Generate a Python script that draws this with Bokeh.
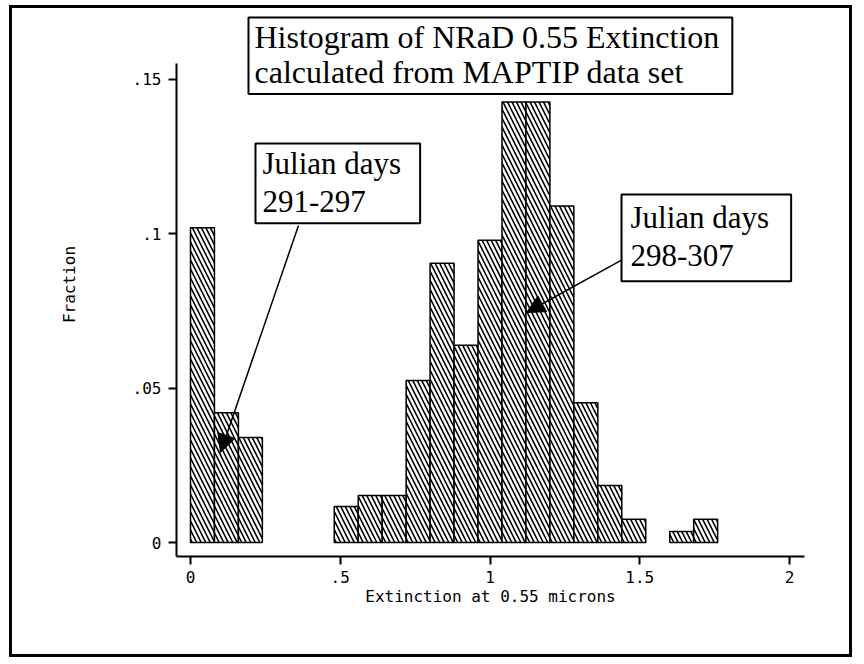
from bokeh.plotting import figure
from bokeh.models import FixedTicker, Label, Arrow, NormalHead, Range1d, ColumnDataSource
from bokeh.embed import file_html
from bokeh.resources import INLINE

# ---- data ----
bin_start = 0.0
bin_width = 0.08
fractions = [0.102, 0.042, 0.034, 0.0, 0.0, 0.0, 0.0117, 0.0152, 0.0152, 0.0525,
             0.0905, 0.0639, 0.0979, 0.1427, 0.1427, 0.109, 0.0453, 0.0185, 0.0075,
             0.0, 0.0036, 0.0075]
x_ticks = [0, 0.5, 1, 1.5, 2]
x_tick_labels = ["0", ".5", "1", "1.5", "2"]
y_ticks = [0, 0.05, 0.1, 0.15]
y_tick_labels = ["0", ".05", ".1", ".15"]
title_text = "Histogram of NRaD 0.55 Extinction\ncalculated from MAPTIP data set"
note_left = "Julian days\n291-297"
note_right = "Julian days\n298-307"
x_label = "Extinction at 0.55 microns"
y_label = "Fraction"

lefts, rights, tops = [], [], []
for i, f in enumerate(fractions):
    if f > 0:
        lefts.append(bin_start + i * bin_width)
        rights.append(bin_start + (i + 1) * bin_width)
        tops.append(f)
src = ColumnDataSource(dict(left=lefts, right=rights, top=tops, bottom=[0] * len(tops)))

y_lo, y_axis_top, y_hi = -0.004535, 0.1552, 0.17169
p = figure(width=843, height=652, x_range=Range1d(-0.0467, 2.05), y_range=Range1d(y_lo, y_hi),
           output_backend="svg", toolbar_location=None,
           min_border_left=164, min_border_right=51, min_border_top=4, min_border_bottom=104)
p.outline_line_color = None
p.xgrid.visible = False
p.ygrid.visible = False
p.background_fill_color = "white"
p.border_fill_color = "white"
p.styles = {"border": "3px solid black", "margin-left": "9px", "margin-top": "5px"}

p.quad(left="left", right="right", top="top", bottom="bottom", source=src,
       fill_color="white", line_color="black", line_width=1.5,
       hatch_pattern="left_diagonal_line", hatch_color="black", hatch_weight=1.6, hatch_scale=9)

mono = "DejaVu Sans Mono"
for ax, ticks, labels in ((p.xaxis[0], x_ticks, x_tick_labels), (p.yaxis[0], y_ticks, y_tick_labels)):
    ax.ticker = FixedTicker(ticks=ticks)
    ax.major_label_overrides = {t: l for t, l in zip(ticks, labels)}
    ax.minor_tick_line_color = None
    ax.major_tick_out = 8
    ax.major_tick_in = 0
    ax.axis_line_width = 2
    ax.major_tick_line_width = 2
    ax.major_label_text_font = mono
    ax.major_label_text_font_size = "16px"
    ax.major_label_text_color = "black"
    ax.axis_label_text_font = mono
    ax.axis_label_text_font_size = "16px"
    ax.axis_label_text_font_style = "normal"
    ax.axis_label_text_color = "black"

p.xaxis.axis_label = x_label
p.xaxis.major_label_standoff = 6
p.xaxis.axis_label_standoff = 1
p.yaxis.axis_label = y_label
p.yaxis.bounds = (y_lo, y_axis_top)
p.yaxis.major_label_orientation = "horizontal"
p.yaxis.major_label_standoff = 7
p.yaxis.axis_label_standoff = 51

serif = "Liberation Serif"
box_style = dict(text_font=serif, text_align="left", text_baseline="top", text_color="black",
                 border_line_color="black", border_line_width=2, background_fill_color="white")
p.add_layout(Label(x=0.19366, y=0.17007, text=title_text, text_font_size="32px", text_line_height=0.988,
                   padding=dict(left=6, right=13, top=1, bottom=4), **box_style))
p.add_layout(Label(x=0.21703, y=0.12925, text=note_left, text_font_size="31px", text_line_height=1.107,
                   padding=dict(left=7, right=19, top=2, bottom=4), **box_style))
p.add_layout(Label(x=1.43907, y=0.11273, text=note_right, text_font_size="31px", text_line_height=1.107,
                   padding=dict(left=9, right=22, top=5, bottom=8), **box_style))

p.add_layout(Arrow(end=NormalHead(size=18, fill_color="black", line_color="black"),
                   x_start=0.3606, y_start=0.1027, x_end=0.1002, y_end=0.02915, line_width=1.5))
p.add_layout(Arrow(end=NormalHead(size=18, fill_color="black", line_color="black"),
                   x_start=1.4391, y_start=0.0915, x_end=1.1219, y_end=0.0745, line_width=1.5))

open("out.html", "w").write(file_html(p, INLINE))
